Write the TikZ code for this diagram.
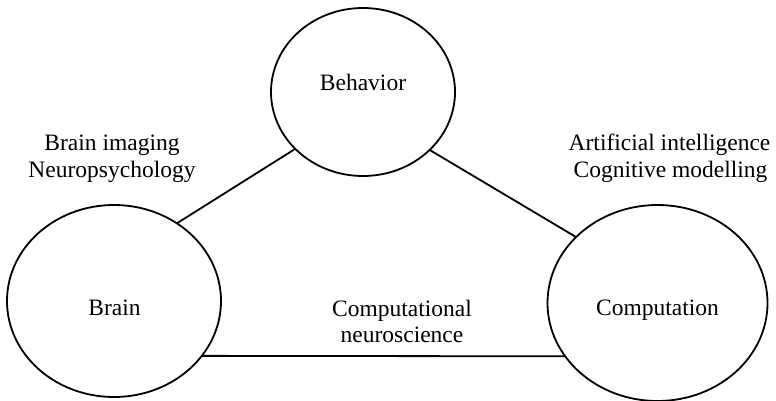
\documentclass[tikz,border=0pt]{standalone}
\usepackage{fontspec}
\setmainfont{Liberation Serif}
\usetikzlibrary{shapes.geometric}
\begin{document}
\begin{tikzpicture}[x=1pt,y=-1pt,
  field/.style={draw=black, line width=1.8pt, ellipse, inner sep=0pt, outer sep=0pt},
  link/.style={draw=black, line width=1.8pt},
  lbl/.style={inner sep=0pt, outer sep=0pt, anchor=base,
    font=\fontsize{23.5}{26.7}\selectfont}]
  \useasboundingbox (0,0) rectangle (776,401);

  % the three fields
  \node[field, minimum width=184pt, minimum height=168pt] (beh) at (363,92) {};
  \node[field, minimum width=214pt, minimum height=192pt] (brain) at (114,301) {};
  \node[field, minimum width=220pt, minimum height=196pt] (comp) at (657.5,303) {};

  % field names
  \node[lbl] (behT) at (363,91) {Behavior};
  \node[lbl] (brainT) at (114.5,315) {Brain};
  \node[lbl] (compT) at (657.5,315.5) {Computation};

  % links between the fields
  \draw[link] (beh.220.6) -- (brain.51);
  \draw[link] (beh.319.8) -- (comp.141.4);
  \draw[link] (brain.-32.8) -- (comp.210.4);

  % disciplines along each link
  \node[lbl] (bi1) at (112,150.7) {Brain imaging};
  \node[lbl] (bi2) at (112,177.3) {Neuropsychology};
  \node[lbl] (ai1) at (669.5,150.5) {Artificial intelligence};
  \node[lbl] (ai2) at (670.5,177) {Cognitive modelling};
  \node[lbl] (cn1) at (402,316) {Computational};
  \node[lbl] (cn2) at (402,342.7) {neuroscience};
\end{tikzpicture}
\end{document}
